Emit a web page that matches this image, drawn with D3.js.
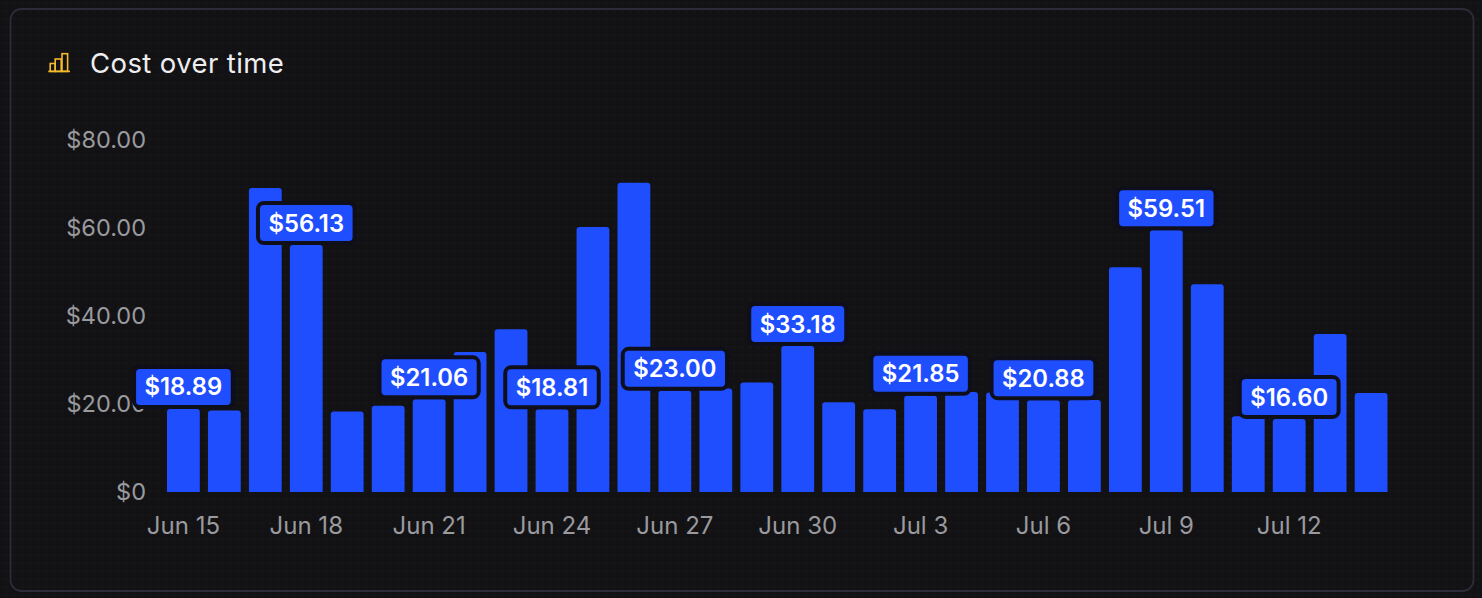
<!DOCTYPE html>
<html>
<head>
<meta charset="utf-8">
<script src="https://cdn.jsdelivr.net/npm/d3@7"></script>
<style>
  html, body { margin: 0; padding: 0; background: #121215; }
  svg { display: block; }
  text { font-family: Inter, sans-serif; }
</style>
</head>
<body>
<svg id="chart" width="1482" height="598"></svg>
<script>
// Daily cost figures, one per day starting Jun 15
const days = ["Jun 15","Jun 16","Jun 17","Jun 18","Jun 19","Jun 20","Jun 21","Jun 22","Jun 23","Jun 24",
  "Jun 25","Jun 26","Jun 27","Jun 28","Jun 29","Jun 30","Jul 1","Jul 2","Jul 3","Jul 4",
  "Jul 5","Jul 6","Jul 7","Jul 8","Jul 9","Jul 10","Jul 11","Jul 12","Jul 13","Jul 14"];
const costs = [18.89,18.5,69.1,56.13,18.3,19.6,21.06,31.8,37.0,18.81,
  60.2,70.3,23.00,23.5,24.9,33.18,20.4,18.8,21.85,22.7,
  22.6,20.88,20.9,51.1,59.51,47.2,17.2,16.60,35.9,22.5];
const yTicks = [0,20,40,60,80];
const xTickDays = days.filter((d, i) => i % 3 === 0);

const svg = d3.select("#chart");
const W = 1482, H = 598;

const colors = { page:"#121215", border:"#2c2b38", blue:"#1f4eff", tick:"#9a9a9e", title:"#eeeef1", icon:"#f5b92e", halo:"#0f0f1c", dot:"#17171b" };

// Faint dotted backdrop
const defs = svg.append("defs");
const pat = defs.append("pattern").attr("id","dots").attr("width",8).attr("height",8).attr("patternUnits","userSpaceOnUse");
pat.append("circle").attr("cx",6).attr("cy",3).attr("r",1.3).attr("fill",colors.dot);
svg.append("rect").attr("width",W).attr("height",H).attr("fill",colors.page);
svg.append("rect").attr("width",W).attr("height",H).attr("fill","url(#dots)");

// Card outline
svg.append("rect").attr("x",10.5).attr("y",9).attr("width",1463).attr("height",582).attr("rx",11)
  .attr("fill","none").attr("stroke",colors.border).attr("stroke-width",1.8);

// Header icon and title
const icon = svg.append("g").attr("transform","translate(48,52)").attr("fill","none").attr("stroke",colors.icon).attr("stroke-width",1.6);
icon.append("path").attr("d","M0.3 19.4H22");
icon.append("rect").attr("x",2.2).attr("y",11.5).attr("width",5).attr("height",7.9);
icon.append("rect").attr("x",7.2).attr("y",7).attr("width",6).attr("height",12.4);
icon.append("rect").attr("x",14).attr("y",1.7).attr("width",5.6).attr("height",17.7);
svg.append("text").attr("x",90).attr("y",73).attr("fill",colors.title).attr("font-size",27.5).attr("font-weight",400).attr("letter-spacing",0.4).text("Cost over time");

// Scales
const y = d3.scaleLinear().domain([0,80]).range([492,140]);
const x = d3.scaleBand().domain(days).range([167,1387.5]).paddingInner(0.199).paddingOuter(0);

// Axes
const fmt = v => v === 0 ? "$0" : "$" + d3.format(".2f")(v);
const yAxis = d3.axisLeft(y).tickValues(yTicks).tickFormat(fmt).tickSize(0).tickPadding(0);
const gy = svg.append("g").attr("transform","translate(146,0)").call(yAxis);
gy.select(".domain").remove();
gy.selectAll("text").attr("fill",colors.tick).attr("font-size",23.5).attr("dy","0.32em").style("font-family","Inter, sans-serif");

const xAxis = d3.axisBottom(x).tickValues(xTickDays).tickSize(0).tickPadding(0);
const gx = svg.append("g").attr("transform","translate(0,517)").call(xAxis);
gx.select(".domain").remove();
gx.selectAll("text").attr("fill",colors.tick).attr("font-size",24).attr("dy","0.71em").style("font-family","Inter, sans-serif");

// Bars with rounded top corners only
const r = 3;
svg.append("g").selectAll("path").data(days).join("path")
  .attr("fill",colors.blue)
  .attr("d",(d,i) => {
    const x0 = x(d), w = x.bandwidth(), t = y(costs[i]), b = y(0);
    return `M${x0} ${b}V${t+r}Q${x0} ${t} ${x0+r} ${t}H${x0+w-r}Q${x0+w} ${t} ${x0+w} ${t+r}V${b}Z`;
  });

// Value badges on every third day, sized to their text
const labelled = days.map((d,i) => ({d, v:costs[i]})).filter((e,i) => i % 3 === 0);
const boxH = 36, gap = 4, padX = 8.5;
const badge = svg.append("g").selectAll("g").data(labelled).join("g")
  .attr("transform", e => `translate(${x(e.d)+x.bandwidth()/2},${y(e.v)-gap-boxH/2})`);
const box = badge.append("rect").attr("y",-boxH/2).attr("height",boxH).attr("rx",4)
  .attr("fill",colors.blue).attr("stroke",colors.halo).attr("stroke-width",8).attr("paint-order","stroke");
const label = badge.append("text").attr("text-anchor","middle").attr("dy","0.36em").attr("fill","#fff")
  .attr("font-size",23.8).attr("font-weight",600).text(e => "$" + e.v.toFixed(2));
box.each(function(e, i) {
  const w = label.nodes()[i].getComputedTextLength() + padX * 2;
  d3.select(this).attr("x", -w / 2).attr("width", w);
});
</script>
</body>
</html>
